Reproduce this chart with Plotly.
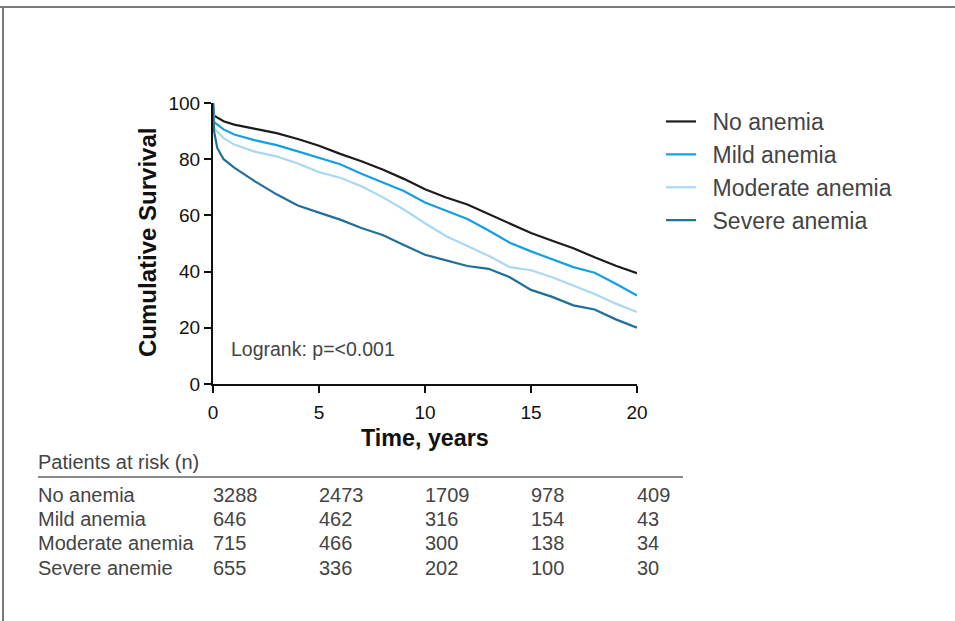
import plotly.graph_objects as go

# ---- data ----
t_no = [0, 0.05, 0.5, 1, 2, 3, 4, 5, 6, 7, 8, 9, 10, 11, 12, 13, 14, 15, 16, 17, 18, 19, 20]
s_no = [100, 95.5, 93.5, 92.3, 90.8, 89.3, 87.2, 84.8, 81.9, 79.3, 76.3, 73.0, 69.3, 66.4, 63.9, 60.5, 56.9, 53.7, 51.0, 48.3, 45.1, 42.1, 39.4]

t_mild = [0, 0.05, 0.5, 1, 2, 3, 4, 5, 6, 7, 8, 9, 10, 11, 12, 13, 14, 15, 16, 17, 18, 19, 20]
s_mild = [100, 93.2, 90.6, 88.8, 86.7, 85.0, 82.8, 80.5, 78.2, 74.8, 71.7, 68.7, 64.6, 61.6, 58.7, 54.6, 50.3, 47.2, 44.5, 41.6, 39.6, 35.7, 31.5]

t_mod = [0, 0.05, 0.5, 1, 2, 3, 4, 5, 6, 7, 8, 9, 10, 11, 12, 13, 14, 15, 16, 17, 18, 19, 20]
s_mod = [100, 91.0, 87.5, 85.2, 82.6, 81.0, 78.5, 75.4, 73.4, 70.4, 66.5, 62.1, 57.2, 52.6, 49.1, 45.6, 41.6, 40.5, 38.0, 35.0, 32.0, 28.6, 25.6]

t_sev = [0, 0.05, 0.2, 0.5, 1, 2, 3, 4, 5, 6, 7, 8, 9, 10, 11, 12, 13, 14, 15, 16, 17, 18, 19, 20]
s_sev = [100, 90.0, 84.0, 80.0, 77.0, 72.0, 67.5, 63.5, 61.0, 58.5, 55.5, 53.0, 49.5, 46.0, 44.0, 42.0, 41.0, 38.0, 33.5, 31.0, 28.0, 26.5, 23.0, 20.0]

groups = ["No anemia", "Mild anemia", "Moderate anemia", "Severe anemia"]
colors = ["#1c1c1c", "#14a0e0", "#a8d8f2", "#1f6f98"]

x_ticks = [0, 5, 10, 15, 20]
y_ticks = [0, 20, 40, 60, 80, 100]

risk_labels = ["No anemia", "Mild anemia", "Moderate anemia", "Severe anemie"]
risk_no = [3288, 2473, 1709, 978, 409]
risk_mild = [646, 462, 316, 154, 43]
risk_mod = [715, 466, 300, 138, 34]
risk_sev = [655, 336, 202, 100, 30]

W, H = 955, 621
FONT = "Liberation Sans, Arial, sans-serif"


def px(x):
    return x / W


def py(y):
    return 1 - y / H


fig = go.Figure()
series = [(t_no, s_no), (t_mild, s_mild), (t_mod, s_mod), (t_sev, s_sev)]
for (t, s), name, c in zip(series, groups, colors):
    fig.add_trace(go.Scatter(x=t, y=s, mode="lines", name="\u2002" + name, legendgroup=name,
                             line=dict(color=c, width=2.2)))

annotations = []
# axis titles
annotations.append(dict(x=px(148), y=py(243), xref="paper", yref="paper",
                        xanchor="center", yanchor="middle",
                        text="<b>Cumulative Survival</b>", textangle=-90, showarrow=False,
                        font=dict(family=FONT, size=24, color="#111")))
annotations.append(dict(x=px(425), y=py(438), xref="paper", yref="paper",
                        xanchor="center", yanchor="middle",
                        text="<b>Time, years</b>", showarrow=False,
                        font=dict(family=FONT, size=23.3, color="#111")))
annotations.append(dict(x=px(229), y=py(349), xref="paper", yref="paper",
                        xanchor="left", yanchor="middle",
                        text="Logrank: p=&lt;0.001", showarrow=False,
                        font=dict(family=FONT, size=19.5, color="#444")))
# risk table
annotations.append(dict(x=px(36), y=py(462), xref="paper", yref="paper",
                        xanchor="left", yanchor="middle",
                        text="Patients at risk (n)", showarrow=False,
                        font=dict(family=FONT, size=20, color="#444")))
row_y = [495, 519, 543, 568]
for lab, vals, yy in zip(risk_labels, [risk_no, risk_mild, risk_mod, risk_sev], row_y):
    annotations.append(dict(x=px(36), y=py(yy), xref="paper", yref="paper",
                            xanchor="left", yanchor="middle",
                            text=lab, showarrow=False,
                            font=dict(family=FONT, size=20, color="#444")))
    for xv, v in zip(x_ticks, vals):
        annotations.append(dict(x=xv, y=py(yy), xref="x", yref="paper",
                                xanchor="left", yanchor="middle",
                                xshift=-2, text=str(v), showarrow=False,
                                font=dict(family=FONT, size=20, color="#444")))

shapes = [
    dict(type="line", xref="paper", yref="paper", x0=px(38), x1=px(683), y0=py(477), y1=py(477),
         line=dict(color="#8a8a8a", width=2)),
    dict(type="line", xref="paper", yref="paper", x0=0, x1=1, y0=py(7), y1=py(7),
         line=dict(color="#7a7a7a", width=2)),
    dict(type="line", xref="paper", yref="paper", x0=px(3), x1=px(3), y0=py(7), y1=0,
         line=dict(color="#7a7a7a", width=2)),
]

fig.update_layout(
    width=W, height=H, margin=dict(l=0, r=0, t=0, b=0, autoexpand=False),
    paper_bgcolor="white", plot_bgcolor="white",
    font=dict(family=FONT, color="#111"),
    xaxis=dict(domain=[px(213), px(637)], range=[0, 20], tickvals=x_ticks,
               showline=True, linecolor="#111", linewidth=2, ticks="outside",
               ticklen=7, tickwidth=2, tickcolor="#111", showgrid=False, zeroline=False,
               automargin=False, ticklabelstandoff=3,
               tickfont=dict(family=FONT, size=19, color="#111")),
    yaxis=dict(domain=[py(384), py(103)], range=[0, 100], tickvals=y_ticks,
               showline=True, linecolor="#111", linewidth=2, ticks="outside",
               ticklen=7, tickwidth=2, tickcolor="#111", showgrid=False, zeroline=False,
               automargin=False,
               tickfont=dict(family=FONT, size=19, color="#111")),
    showlegend=True,
    legend=dict(x=px(661), y=py(100), xanchor="left", yanchor="top",
                font=dict(family=FONT, size=23, color="#444"), tracegroupgap=0,
                itemwidth=30, bgcolor="rgba(0,0,0,0)"),
    annotations=annotations, shapes=shapes,
)

fig.write_html("out.html")
